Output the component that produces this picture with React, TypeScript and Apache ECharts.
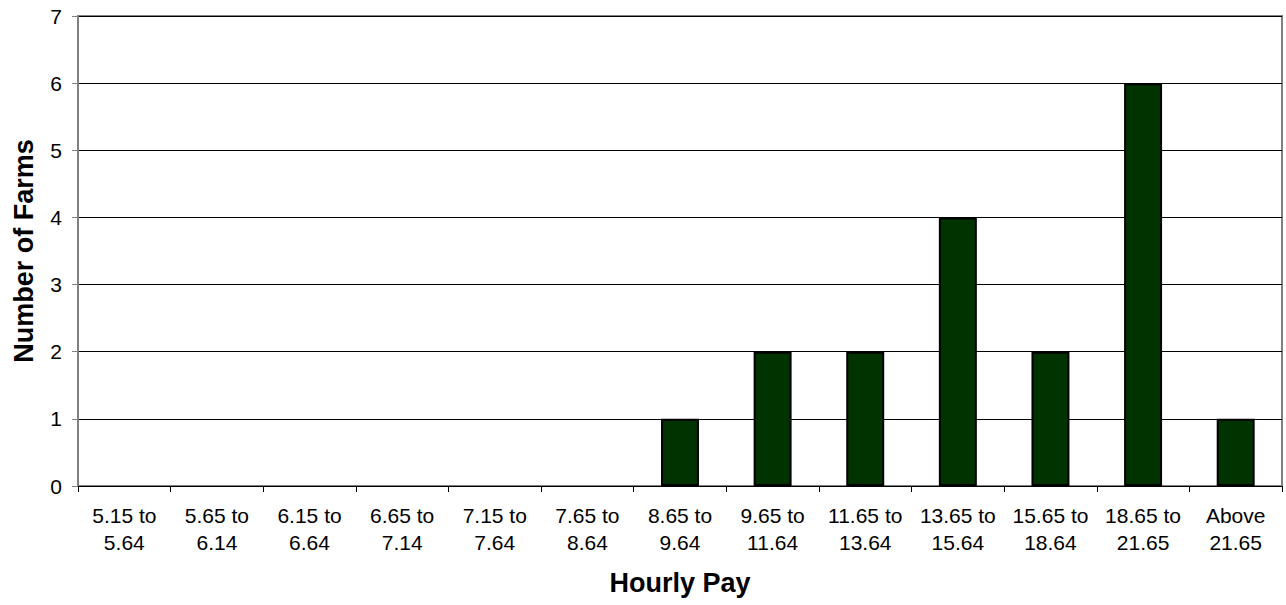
import React, { useEffect, useRef } from "react";
import * as echarts from "echarts";

const categories = [
  "5.15 to\n5.64", "5.65 to\n6.14", "6.15 to\n6.64", "6.65 to\n7.14", "7.15 to\n7.64",
  "7.65 to\n8.64", "8.65 to\n9.64", "9.65 to\n11.64", "11.65 to\n13.64", "13.65 to\n15.64",
  "15.65 to\n18.64", "18.65 to\n21.65", "Above\n21.65",
];
const farms = [0, 0, 0, 0, 0, 0, 1, 2, 2, 4, 2, 6, 1];

export default function App() {
  const ref = useRef<HTMLDivElement>(null);
  useEffect(() => {
    const chart = echarts.init(ref.current!, null, { renderer: "svg" });
    const font = "Liberation Sans, Arial, sans-serif";
    chart.setOption({
      animation: false,
      backgroundColor: "#ffffff",
      grid: {
        left: 78, top: 16, right: 4, bottom: 119,
        show: true, borderColor: "#808080", borderWidth: 2, backgroundColor: "transparent",
      },
      xAxis: {
        type: "category",
        data: categories,
        name: "Hourly Pay",
        nameLocation: "middle",
        nameGap: 83,
        nameTextStyle: { fontFamily: font, fontSize: 27, fontWeight: "bold", color: "#000" },
        axisLine: { lineStyle: { color: "#000", width: 1 } },
        axisTick: { show: true, length: 6, lineStyle: { color: "#000" } },
        axisLabel: { fontFamily: font, fontSize: 21, color: "#000", margin: 16, lineHeight: 27, interval: 0 },
        splitLine: { show: false },
      },
      yAxis: {
        type: "value",
        min: 0, max: 7, interval: 1,
        name: "Number of Farms",
        nameLocation: "middle",
        nameGap: 41,
        nameRotate: 90,
        nameTextStyle: { fontFamily: font, fontSize: 27, fontWeight: "bold", color: "#000" },
        axisLine: { show: true, lineStyle: { color: "#808080", width: 2 } },
        axisTick: { show: true, length: 6, lineStyle: { color: "#808080" } },
        axisLabel: { fontFamily: font, fontSize: 21, color: "#000", margin: 16 },
        splitLine: { show: true, lineStyle: { color: "#000", width: 1 } },
      },
      series: [
        {
          type: "bar",
          data: farms.map((v) => (v === 0 ? { value: v, itemStyle: { borderWidth: 0 } } : v)),
          barWidth: "41%",
          itemStyle: { color: "#003300", borderColor: "#000", borderWidth: 2 },
        },
      ],
    });
    return () => chart.dispose();
  }, []);
  return <div ref={ref} style={{ width: 1286, height: 605, position: "absolute", left: 0, top: 0 }} />;
}
